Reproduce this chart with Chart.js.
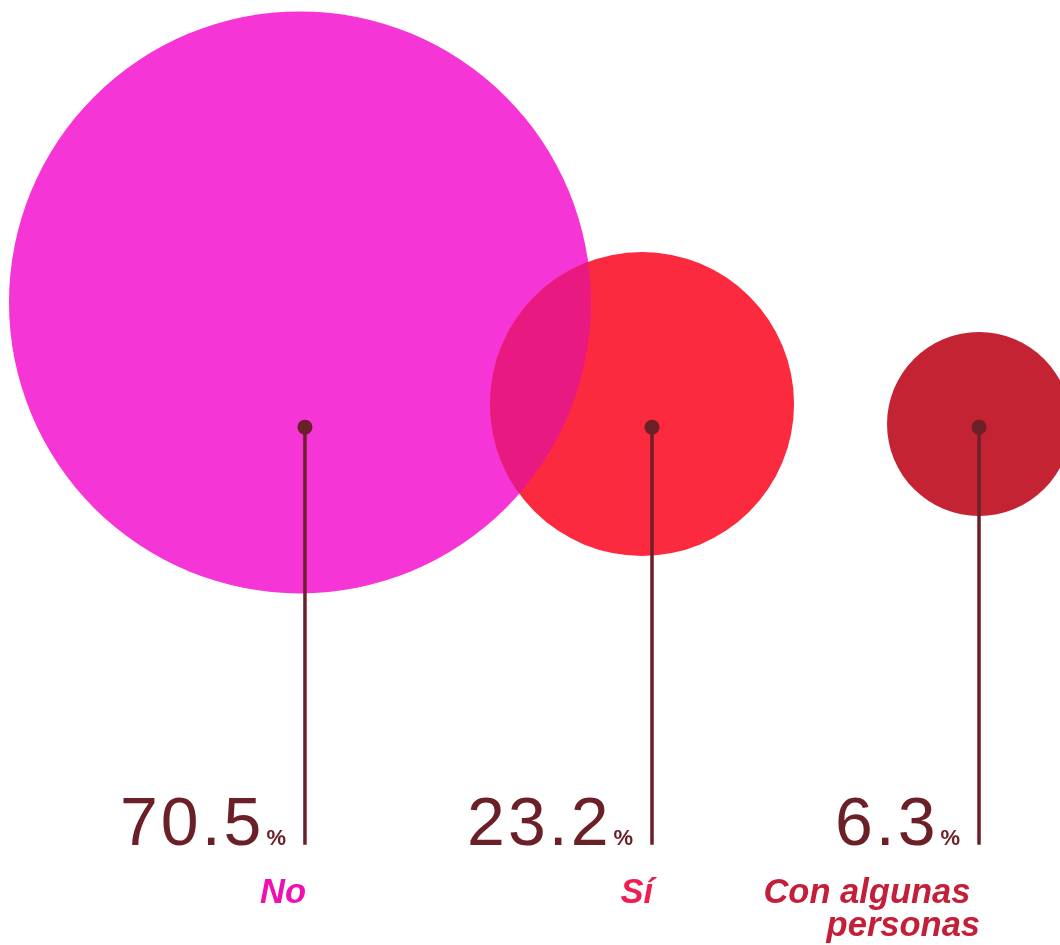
<!DOCTYPE html>
<html lang="es">
<head>
    <meta charset="UTF-8">
    <title>Encuesta</title>
    <script src="https://cdn.jsdelivr.net/npm/chart.js"></script>
    <style>
        html, body { margin: 0; padding: 0; background: #ffffff; }
        #wrap { width: 1060px; height: 945px; }
    </style>
</head>
<body>
    <div id="wrap"><canvas id="chart" width="1060" height="945"></canvas></div>
    <script>
        // Data
        const categories = ['No', 'Sí', 'Con algunas personas'];
        const labelLines = [['No'], ['Sí'], ['Con algunas ', 'personas']];
        const percentages = [70.5, 23.2, 6.3];

        // bubble centres (axis units 0-100) and radii (px)
        const bubbleX = [28.3, 60.57, 92.36];
        const bubbleY = [68.0, 57.25, 55.13];
        const bubbleR = [291, 152, 92];

        // stems: dot at top, text at bottom
        const stemX = [28.77, 61.51, 92.36];
        const stemTop = 54.8;
        const stemBottom = 10.6;

        const bubbleColors = ['#f535d6', '#fc2a3e', '#c42334'];
        const labelColors = ['#f00fb0', '#ee1f50', '#c41f38'];
        const overlapColor = '#e81a82';
        const maroon = '#6b1f26';

        const stemSets = stemX.map((x, i) => ({
            type: 'line',
            label: categories[i] + ' stem',
            data: [{ x: x, y: stemTop }, { x: x, y: stemBottom }],
            borderColor: maroon,
            borderWidth: 3.5,
            pointRadius: [7.5, 0],
            pointBackgroundColor: maroon,
            pointBorderWidth: 0,
            order: 0
        }));

        // overlap of the two big circles drawn darker
        const overlapPlugin = {
            id: 'overlap',
            afterDatasetDraw(chart, args) {
                if (args.index !== 0) return;
                const els = args.meta.data;
                const a = els[0], b = els[1];
                const ctx = chart.ctx;
                ctx.save();
                ctx.beginPath();
                ctx.arc(a.x, a.y, a.options.radius, 0, Math.PI * 2);
                ctx.clip();
                ctx.beginPath();
                ctx.arc(b.x, b.y, b.options.radius, 0, Math.PI * 2);
                ctx.fillStyle = overlapColor;
                ctx.fill();
                ctx.restore();
            }
        };

        const textPlugin = {
            id: 'texts',
            afterDraw(chart) {
                const ctx = chart.ctx;
                const xs = chart.scales.x, ys = chart.scales.y;
                const yb = ys.getPixelForValue(stemBottom);
                ctx.save();
                ctx.textBaseline = 'alphabetic';
                ctx.textAlign = 'right';
                stemX.forEach((sx, i) => {
                    const px = xs.getPixelForValue(sx);
                    // percent sign
                    ctx.fillStyle = maroon;
                    ctx.font = 'bold 22px "Liberation Sans", Arial, sans-serif';
                    ctx.letterSpacing = '0px';
                    const pctRight = px - 19;
                    ctx.fillText('%', pctRight, yb);
                    const pctW = ctx.measureText('%').width;
                    // number
                    ctx.font = '68px "Liberation Sans", Arial, sans-serif';
                    ctx.letterSpacing = '3px';
                    ctx.fillText(percentages[i].toFixed(1), pctRight - pctW - 2, yb);
                    ctx.letterSpacing = '0px';
                    // label
                    ctx.fillStyle = labelColors[i];
                    ctx.font = 'italic bold 34.5px "Liberation Sans", Arial, sans-serif';
                    labelLines[i].forEach((line, j) => {
                        ctx.fillText(line, px + 1, yb + 58 + j * 33);
                    });
                });
                ctx.restore();
            }
        };

        new Chart(document.getElementById('chart'), {
            type: 'bubble',
            data: {
                datasets: [{
                    label: 'Respuestas',
                    data: bubbleX.map((x, i) => ({ x: x, y: bubbleY[i], r: bubbleR[i] })),
                    backgroundColor: bubbleColors,
                    borderWidth: 0,
                    hoverBorderWidth: 0,
                    order: 1
                }, ...stemSets]
            },
            options: {
                responsive: false,
                animation: false,
                clip: false,
                layout: { padding: 0, autoPadding: false },
                scales: {
                    x: { type: 'linear', min: 0, max: 100, display: false },
                    y: { type: 'linear', min: 0, max: 100, display: false }
                },
                plugins: {
                    legend: { display: false },
                    tooltip: { enabled: false }
                }
            },
            plugins: [overlapPlugin, textPlugin]
        });
    </script>
</body>
</html>
